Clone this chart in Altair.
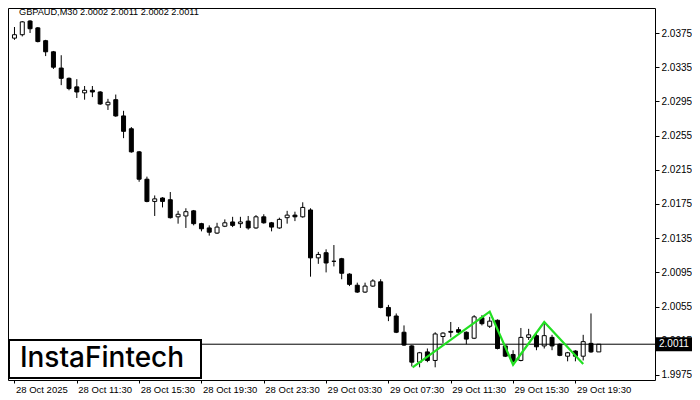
import json
import altair as alt
import pandas as pd

# ---- data (GBPAUD M30) ----
opens = [2.0369, 2.0373, 2.0389, 2.0381, 2.0366, 2.0353, 2.0334, 2.0322, 2.0312, 2.0305,
         2.0308, 2.0306, 2.0291, 2.0297, 2.0278, 2.0263, 2.0236, 2.0204, 2.0178, 2.0182,
         2.0180, 2.0160, 2.0161, 2.0167, 2.0152, 2.0147, 2.0141, 2.0149, 2.0154, 2.0152,
         2.0155, 2.0147, 2.0160, 2.0153, 2.0147, 2.0159, 2.0162, 2.0160, 2.0168, 2.0112,
         2.0118, 2.0108, 2.0111, 2.0093, 2.0080, 2.0072, 2.0079, 2.0084, 2.0054, 2.0044,
         2.0025, 2.0009, 1.9990, 2.0002, 1.9992, 2.0020, 2.0026, 2.0028, 2.0025, 2.0018,
         2.0042, 2.0032, 2.0039, 2.0009, 1.9999, 1.9992, 2.0019, 2.0021, 2.0009, 2.0019,
         2.0011, 1.9997, 2.0003, 1.9997, 2.0012, 2.0002]
highs = [2.0382, 2.0389, 2.0390, 2.0382, 2.0367, 2.0354, 2.0349, 2.0323, 2.0321, 2.0313,
         2.0313, 2.0307, 2.0298, 2.0303, 2.0284, 2.0265, 2.0237, 2.0207, 2.0185, 2.0183,
         2.0189, 2.0167, 2.0170, 2.0168, 2.0153, 2.0150, 2.0153, 2.0157, 2.0160, 2.0160,
         2.0161, 2.0162, 2.0163, 2.0154, 2.0159, 2.0167, 2.0166, 2.0177, 2.0170, 2.0119,
         2.0122, 2.0127, 2.0112, 2.0094, 2.0083, 2.0083, 2.0087, 2.0087, 2.0057, 2.0047,
         2.0033, 2.0010, 2.0002, 2.0006, 2.0025, 2.0025, 2.0037, 2.0031, 2.0026, 2.0045,
         2.0045, 2.0043, 2.0040, 2.0010, 2.0004, 2.0030, 2.0029, 2.0024, 2.0036, 2.0022,
         2.0012, 2.0002, 2.0004, 2.0022, 2.0047, 2.0011]
lows = [2.0367, 2.0371, 2.0375, 2.0364, 2.0348, 2.0333, 2.0314, 2.0308, 2.0299, 2.0297,
        2.0300, 2.0291, 2.0285, 2.0277, 2.0252, 2.0235, 2.0201, 2.0177, 2.0161, 2.0171,
        2.0158, 2.0152, 2.0147, 2.0150, 2.0143, 2.0138, 2.0140, 2.0148, 2.0148, 2.0147,
        2.0145, 2.0146, 2.0152, 2.0143, 2.0146, 2.0152, 2.0155, 2.0159, 2.0090, 2.0105,
        2.0095, 2.0102, 2.0087, 2.0079, 2.0071, 2.0071, 2.0078, 2.0053, 2.0038, 2.0024,
        2.0009, 1.9985, 1.9984, 1.9990, 1.9984, 2.0012, 2.0019, 2.0022, 2.0011, 2.0017,
        2.0033, 2.0030, 2.0005, 1.9996, 1.9990, 1.9991, 2.0016, 2.0004, 2.0006, 2.0004,
        1.9997, 1.9991, 1.9991, 1.9992, 2.0001, 2.0002]
closes = [2.0373, 2.0388, 2.0380, 2.0365, 2.0353, 2.0335, 2.0322, 2.0310, 2.0306, 2.0308,
          2.0306, 2.0292, 2.0294, 2.0278, 2.0260, 2.0236, 2.0204, 2.0178, 2.0181, 2.0178,
          2.0159, 2.0163, 2.0166, 2.0152, 2.0146, 2.0142, 2.0148, 2.0153, 2.0150, 2.0154,
          2.0147, 2.0160, 2.0153, 2.0148, 2.0157, 2.0162, 2.0160, 2.0171, 2.0112, 2.0116,
          2.0106, 2.0108, 2.0094, 2.0081, 2.0072, 2.0079, 2.0085, 2.0054, 2.0044, 2.0025,
          2.0010, 1.9990, 2.0001, 1.9992, 2.0023, 2.0024, 2.0025, 2.0025, 2.0017, 2.0043,
          2.0035, 2.0038, 2.0006, 1.9997, 1.9991, 2.0019, 2.0022, 2.0008, 2.0021, 2.0009,
          1.9998, 2.0001, 1.9997, 2.0014, 2.0002, 2.0011]

tick_idx = [0, 8, 16, 24, 32, 40, 48, 56, 64, 72]
tick_labels = ["28 Oct 2025", "28 Oct 11:30", "28 Oct 15:30", "28 Oct 19:30",
               "28 Oct 23:30", "29 Oct 03:30", "29 Oct 07:30", "29 Oct 11:30",
               "29 Oct 15:30", "29 Oct 19:30"]
y_ticks = [2.0375, 2.0335, 2.0295, 2.0255, 2.0215, 2.0175, 2.0135,
           2.0095, 2.0055, 2.0015, 1.9975]

pattern_idx = [51.1, 61, 64, 68, 73]
pattern_price = [1.9984, 2.0049, 1.9987, 2.0037, 1.9988]

last_price = 2.0011
header = "GBPAUD,M30  2.0002 2.0011 2.0002 2.0011"
logo = "InstaFintech"

W, H = 647, 372
FONT = "Liberation Sans"

df = pd.DataFrame({"i": list(range(len(opens))), "o": opens, "h": highs,
                   "l": lows, "c": closes})
df["dir"] = ["up" if c >= o else "down" for o, c in zip(opens, closes)]

xs = alt.Scale(domain=[-0.19, -0.19 + W / 7.913], nice=False, zero=False)
ys = alt.Scale(domain=[1.996915, 2.040424], nice=False, zero=False)

label_expr = f"{json.dumps(tick_labels)}[indexof({json.dumps(tick_idx)}, datum.value)]"

x_axis = alt.Axis(values=tick_idx, labelExpr=label_expr, labelAlign="left",
                  labelBaseline="top", labelPadding=1, tickSize=3, labelOffset=1,
                  labelFontSize=9.5, labelOverlap=False, labelFlush=False,
                  domain=False, grid=False, title=None, zindex=0)
y_axis = alt.Axis(values=y_ticks, format=".4f", orient="right", tickSize=4,
                  labelPadding=2, labelFontSize=10, labelOverlap=False,
                  labelFlush=False, domain=False, grid=False, title=None, zindex=0)


def X(field):
    return alt.X(field, scale=xs, axis=x_axis)


def Y(field):
    return alt.Y(field, scale=ys, axis=y_axis)


base = alt.Chart(df)

wicks = base.mark_rule(color="black", strokeWidth=1).encode(
    x=X("i:Q"), y=Y("l:Q"), y2="h:Q",
)

bodies = base.mark_bar(width=4, stroke="black", strokeWidth=1).encode(
    x=X("i:Q"), y=Y("o:Q"), y2="c:Q",
    fill=alt.Fill("dir:N", scale=alt.Scale(domain=["up", "down"], range=["white", "black"]),
                  legend=None),
)

price_df = pd.DataFrame({"p": [last_price], "t": [f"{last_price:.4f}"]})

price_line = alt.Chart(price_df).mark_rule(color="black", strokeWidth=1).encode(
    y=Y("p:Q"),
)

pat_df = pd.DataFrame({"pi": pattern_idx, "pp": pattern_price,
                       "k": list(range(len(pattern_idx)))})
pattern = alt.Chart(pat_df).mark_line(color="#22e022", strokeWidth=2.2).encode(
    x=X("pi:Q"), y=Y("pp:Q"), order="k:Q",
)

logo_df = pd.DataFrame({"t": [logo]})
logo_box = alt.Chart(logo_df).mark_rect(fill="white", stroke="black", strokeWidth=2).encode(
    x=alt.value(1), x2=alt.value(193), y=alt.value(332), y2=alt.value(370),
)
logo_text = alt.Chart(logo_df).mark_text(font="Inter", fontSize=28, fontWeight=500,
                                         color="black", align="center",
                                         baseline="middle").encode(
    x=alt.value(94), y=alt.value(351), text="t:N",
)

head_df = pd.DataFrame({"t": [header]})
head_text = alt.Chart(head_df).mark_text(font=FONT, fontSize=9.2, color="black",
                                         align="left", baseline="middle").encode(
    x=alt.value(11), y=alt.value(3.5), text="t:N",
)

price_box = alt.Chart(price_df).mark_rect(color="black", yOffset=-7, y2Offset=7).encode(
    x=alt.value(W + 1), x2=alt.value(W + 37),
    y=Y("p:Q"), y2="p:Q",
)
price_text = alt.Chart(price_df).mark_text(font=FONT, fontSize=10, color="white",
                                           align="left", baseline="middle").encode(
    x=alt.value(W + 4), y=Y("p:Q"), text="t:N",
)

chart = alt.layer(
    wicks, bodies, price_line, pattern, logo_box, logo_text, head_text,
    price_box, price_text,
).properties(
    width=W, height=H,
    autosize=alt.AutoSizeParams(type="none"),
    padding={"left": 0, "top": 0, "right": 37, "bottom": 16},
    background="white",
).configure_view(
    stroke="black", strokeWidth=1,
).configure_axis(
    labelFont=FONT, labelColor="black", tickColor="black",
)

chart.save("out.html", embed_options={"renderer": "svg", "actions": False})
